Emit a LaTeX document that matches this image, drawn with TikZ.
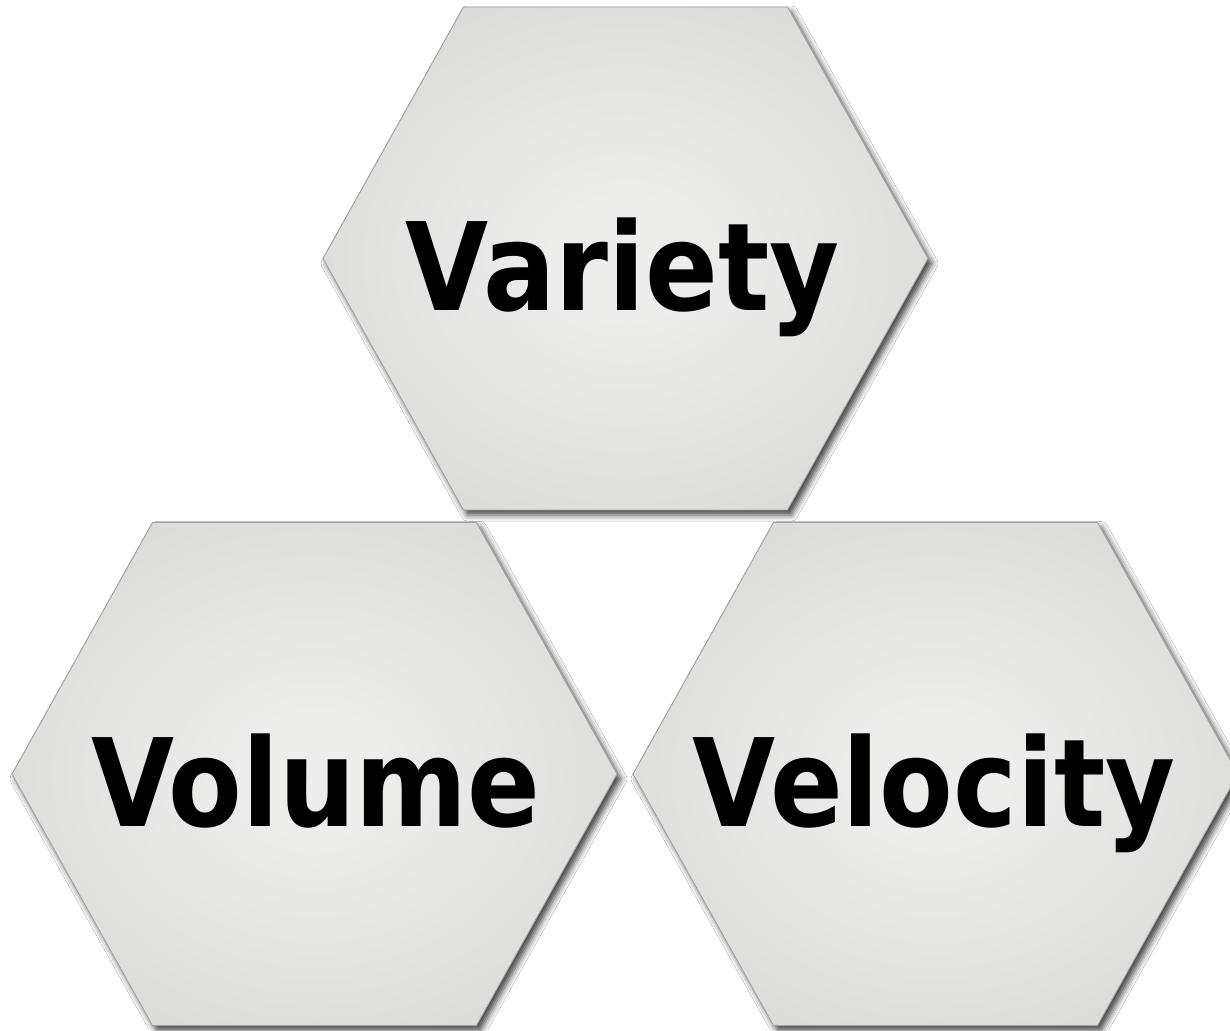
\documentclass[tikz,border=0pt]{standalone}
\usepackage{fontspec}
\newfontfamily\hexfont{DejaVu Sans}
\usetikzlibrary{shadows.blur}
\definecolor{hexin}{HTML}{EDEDEB}
\definecolor{hexout}{HTML}{D2D2D0}
\definecolor{hexedge}{HTML}{A0A0A0}
\pgfdeclareradialshading{hexshade}{\pgfpoint{0bp}{0bp}}{color(0bp)=(hexin); color(6bp)=(hexin); color(40bp)=(hexout); color(60bp)=(hexout)}
\tikzset{
  hexagonshape/.style={shading=hexshade, draw=hexedge, line width=0.9pt, line join=miter,
    blur shadow={shadow xshift=4pt, shadow yshift=-5pt, shadow blur radius=6pt, shadow opacity=75}},
  hexlabel/.style={anchor=base, inner sep=0pt, font=\hexfont\bfseries\fontsize{122}{122}\selectfont, text=black}
}
\newcommand{\hexat}[2]{%
  \path[hexagonshape] (#1-162,#2-251.5) -- (#1+162,#2-251.5) -- (#1+302.5,#2) -- (#1+162,#2+251.5) -- (#1-162,#2+251.5) -- (#1-302.5,#2) -- cycle;}
\begin{document}
\begin{tikzpicture}[x=1pt,y=-1pt]
\useasboundingbox (0,0) rectangle (1230,1030);
\fill[white] (0,0) rectangle (1230,1030);
\hexat{625.5}{258.5}
\hexat{314.5}{774}
\hexat{935.5}{774}
\node[hexlabel] (variety) at (622.5,310) {\scalebox{0.88}[1]{Variety}};
\node[hexlabel] (volume) at (316,826) {\scalebox{0.88}[1]{Volume}};
\node[hexlabel] (velocity) at (934,826) {\scalebox{0.88}[1]{Velocity}};
\end{tikzpicture}
\end{document}
